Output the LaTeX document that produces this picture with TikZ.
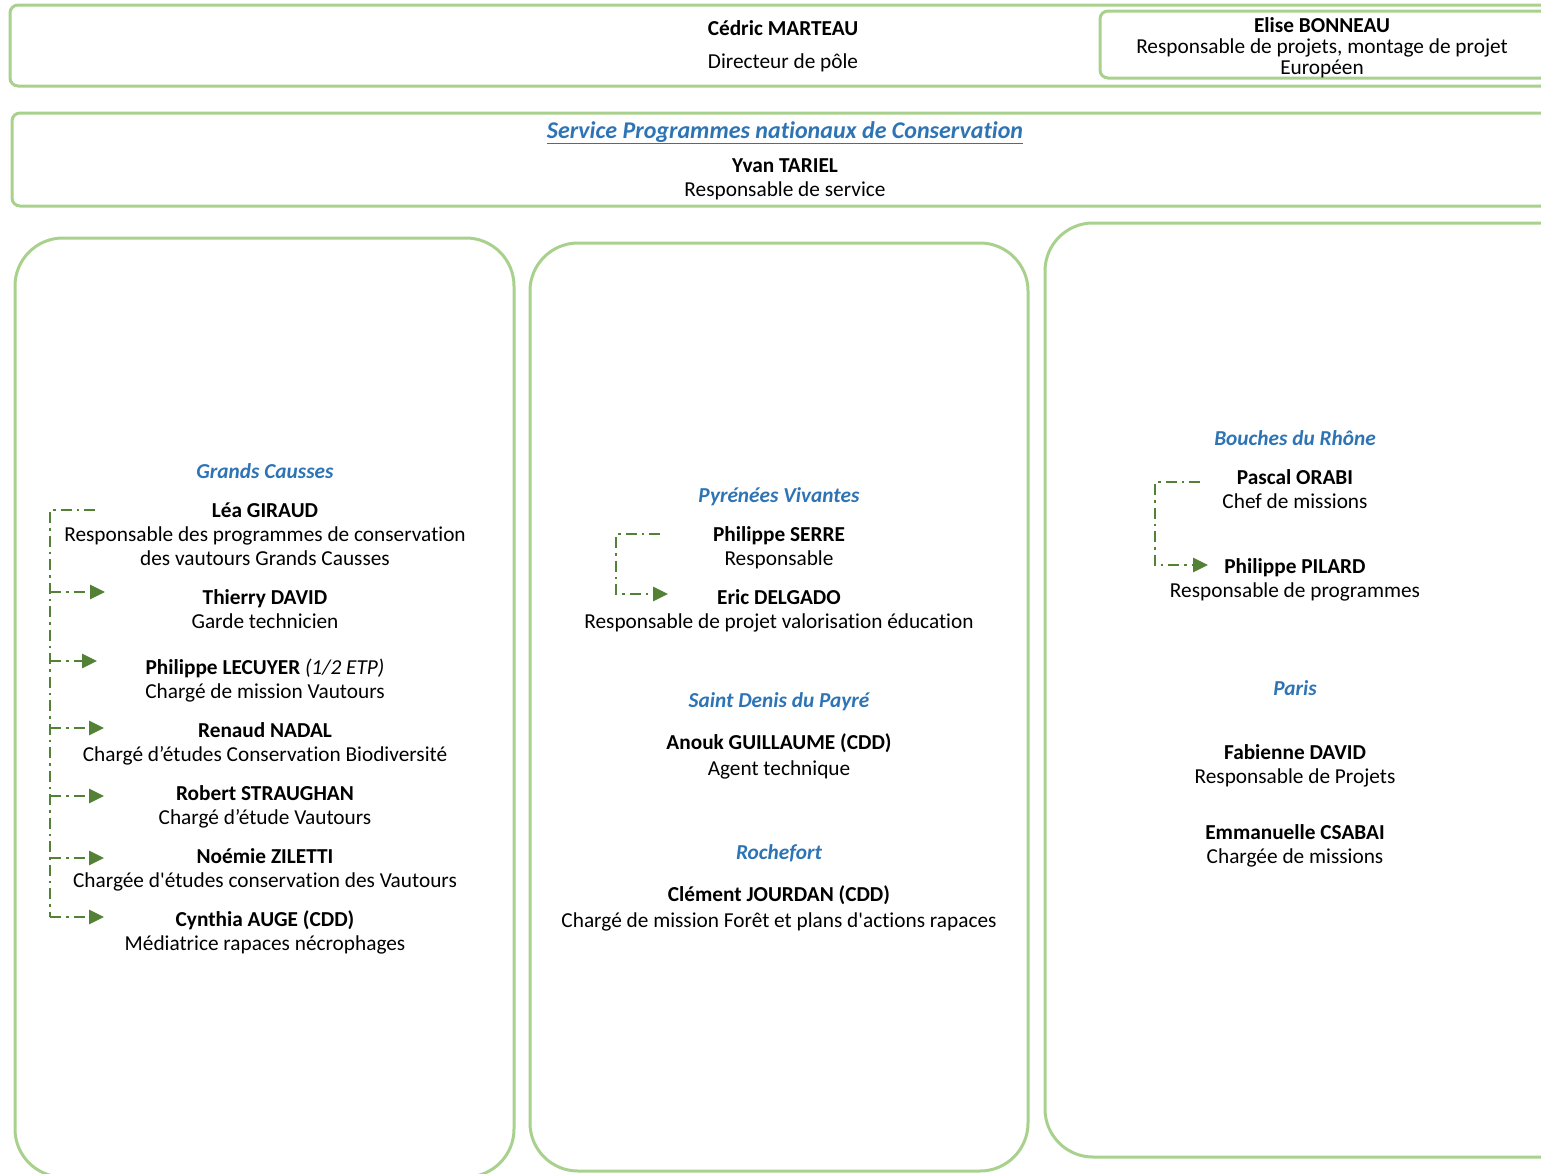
\documentclass[tikz,border=0pt]{standalone}
\usepackage{fontspec}
\setmainfont{Carlito}[Ligatures={TeX,NoCommon}]
\usepackage{xcolor}
\usetikzlibrary{arrows.meta}
\definecolor{boxgreen}{HTML}{A9D18E}
\definecolor{linkgreen}{HTML}{538135}
\definecolor{headblue}{HTML}{2E74B5}

\begin{document}
\begin{tikzpicture}[x=1pt,y=-1pt,>={Triangle[length=15pt,width=14pt]},
		frame/.style={draw=boxgreen,line width=3pt,rounded corners=8pt},
		column/.style={draw=boxgreen,line width=3pt,rounded corners=48pt},
		txt/.style={align=center,anchor=base,inner sep=0pt,font=\fontsize{21.3}{24}\selectfont},
		head/.style={txt,text=headblue,font=\fontsize{21.3}{24}\selectfont\bfseries\itshape},
		link/.style={draw=linkgreen,line width=2.8pt,dash pattern=on 11pt off 5pt on 2.5pt off 5pt}]
		\useasboundingbox (0,0) rectangle (1541,1173);
		\clip (0,0) rectangle (1541,1173);
		% (multi-line nodes: base = baseline of the last line)

		%Direction
		\draw[frame] (10,5) rectangle (1570,86);
		\node[txt] at (783,35) (cedric) {\bfseries Cédric MARTEAU};
		\node[txt] at (783,68) (cedricrole) {Directeur de pôle};
		\draw[frame] (1100,11) rectangle (1570,78);
		\node[txt,font=\fontsize{21.3}{21}\selectfont] at (1322,74) (elise) {\textbf{Elise BONNEAU}\\Responsable de projets, montage de projet\\Européen};

		% Service
		\draw[frame] (12,113) rectangle (1570,206);
		\node[head,font=\fontsize{24}{24}\selectfont\bfseries\itshape] at (785,138) (service) {\underline{Service Programmes nationaux de Conservation}};
		\node[txt] at (785,196) (yvan) {\textbf{Yvan TARIEL}\\Responsable de service};

		% Grands Causses
		\draw[column] (15,238) rectangle (514,1177);
		\node[head] at (265,478) (gc) {Grands Causses};
		\node[txt] at (265,565) (lea) {\textbf{Léa GIRAUD}\\Responsable des programmes de conservation\\des vautours Grands Causses};
		\node[txt] at (265,628) (thierry) {\textbf{Thierry DAVID}\\Garde technicien};
		\node[txt] at (265,698) (lecuyer) {\textbf{Philippe LECUYER} \textit{(1/2 ETP)}\\Chargé de mission Vautours};
		\node[txt] at (265,761) (renaud) {\textbf{Renaud NADAL}\\Chargé d’études Conservation Biodiversité};
		\node[txt] at (265,824) (robert) {\textbf{Robert STRAUGHAN}\\Chargé d’étude Vautours};
		\node[txt] at (265,887) (noemie) {\textbf{Noémie ZILETTI}\\Chargée d\textquotesingle études conservation des Vautours};
		\node[txt] at (265,950) (cynthia) {\textbf{Cynthia AUGE (CDD)}\\Médiatrice rapaces nécrophages};
		\coordinate (gcstart) at (95,510);
		\coordinate (gccorner) at (50,510);
		\coordinate (gcend) at (50,917);
		\draw[link] (gcstart) -- (gccorner) -- (gcend);
		\foreach \n/\y/\e in {1/592/105,2/661/97,3/728/104,4/796/104,5/858/104,6/917/104}{
			\coordinate (gcs\n) at (50,\y);
			\coordinate (gct\n) at (\e,\y);
			\draw[link,->] (gcs\n) -- (gct\n);
		}

		% Pyrenees, Saint Denis, Rochefort
		\draw[column] (530,243) rectangle (1028,1171);
		\node[head] at (779,502) (pv) {Pyrénées Vivantes};
		\node[txt] at (779,565) (serre) {\textbf{Philippe SERRE}\\Responsable};
		\node[txt] at (779,628) (delgado) {\textbf{Eric DELGADO}\\Responsable de projet valorisation éducation};
		\coordinate (pvstart) at (660,534);
		\coordinate (pvcorner) at (616,534);
		\coordinate (pvbottom) at (616,594);
		\coordinate (pvend) at (668,594);
		\draw[link,->] (pvstart) -- (pvcorner) -- (pvbottom) -- (pvend);
		\node[head] at (779,707) (sdp) {Saint Denis du Payré};
		\node[txt] at (779,775) (anouk) {\textbf{Anouk GUILLAUME (CDD)}\\[2pt]Agent technique};
		\node[head] at (779,859) (roch) {Rochefort};
		\node[txt] at (779,927) (clement) {\textbf{Clément JOURDAN (CDD)}\\[2pt]Chargé de mission Forêt et plans d\textquotesingle actions rapaces};

		% Bouches du Rhone, Paris
		\draw[column] (1045,223) rectangle (1590,1157);
		\node[head] at (1295,445) (bdr) {Bouches du Rhône};
		\node[txt] at (1295,508) (orabi) {\textbf{Pascal ORABI}\\Chef de missions};
		\node[txt] at (1295,597) (pilard) {\textbf{Philippe PILARD}\\Responsable de programmes};
		\coordinate (bdrstart) at (1200,482);
		\coordinate (bdrcorner) at (1155,482);
		\coordinate (bdrbottom) at (1155,565);
		\coordinate (bdrend) at (1208,565);
		\draw[link,->] (bdrstart) -- (bdrcorner) -- (bdrbottom) -- (bdrend);
		\node[head] at (1295,695) (paris) {Paris};
		\node[txt] at (1295,783) (fabienne) {\textbf{Fabienne DAVID}\\Responsable de Projets};
		\node[txt] at (1295,863) (emmanuelle) {\textbf{Emmanuelle CSABAI}\\Chargée de missions};

	\end{tikzpicture}
\end{document}
